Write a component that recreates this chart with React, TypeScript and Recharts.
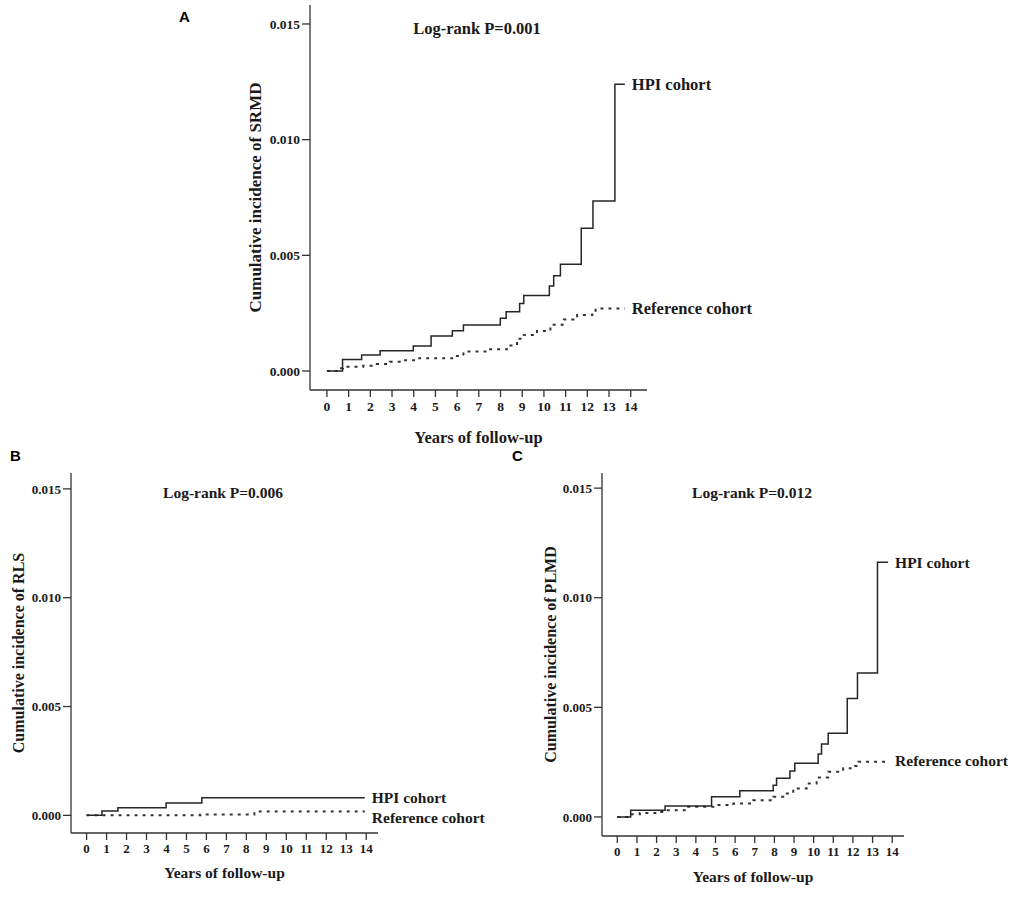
import { Line, LineChart, XAxis, YAxis } from "recharts";

// years / cumulative incidence
const aHpiYears = [0, 0.72, 1.6, 2.45, 3.98, 4.8, 5.78, 6.29, 7.99, 8.26, 8.88, 9.07, 10.25, 10.45, 10.76, 11.72, 12.26, 13.27, 13.73];
const aHpiValues = [0, 0.0005, 0.00069, 0.00088, 0.00108, 0.00151, 0.00174, 0.00199, 0.00228, 0.00256, 0.00292, 0.00326, 0.00367, 0.00412, 0.00461, 0.00617, 0.00735, 0.01239, 0.01239];
const aRefYears = [0, 0.59, 0.74, 1.67, 2.3, 2.9, 3.5, 4.13, 5.9, 6.29, 7.52, 8.29, 8.76, 9.07, 9.68, 10.3, 10.92, 11.53, 12.23, 12.38, 13.73];
const aRefValues = [0, 0.00012, 0.00019, 0.00023, 0.0003, 0.0004, 0.00047, 0.00055, 0.00065, 0.00084, 0.00094, 0.0011, 0.0014, 0.00156, 0.00173, 0.002, 0.00223, 0.00242, 0.0025, 0.0027, 0.0027];

const bHpiYears = [0, 0.77, 1.57, 3.98, 5.77, 13.93];
const bHpiValues = [0, 0.0002, 0.00035, 0.00057, 0.00081, 0.00081];
const bRefYears = [0, 5.7, 8.4, 13.93];
const bRefValues = [0, 0.00004, 0.00018, 0.00018];

const cHpiYears = [0, 0.68, 2.43, 4.8, 6.24, 7.94, 8.11, 8.79, 9.04, 10.23, 10.4, 10.74, 11.71, 12.23, 13.25, 13.79];
const cHpiValues = [0, 0.00031, 0.0005, 0.00092, 0.00119, 0.00145, 0.00176, 0.00209, 0.00245, 0.00287, 0.00333, 0.00382, 0.0054, 0.00657, 0.01162, 0.01162];
const cRefYears = [0, 0.73, 1.15, 2.0, 2.51, 3.53, 4.89, 5.91, 6.92, 7.94, 8.45, 8.96, 9.64, 10.15, 10.74, 11.5, 12.1, 12.27, 13.79];
const cRefValues = [0, 0.00012, 0.00018, 0.00023, 0.0003, 0.00046, 0.00054, 0.00061, 0.00076, 0.00092, 0.00107, 0.0013, 0.00153, 0.0018, 0.00206, 0.00222, 0.00232, 0.00252, 0.00257];

const xTicks = [0, 1, 2, 3, 4, 5, 6, 7, 8, 9, 10, 11, 12, 13, 14];
const yTicks = [0, 0.005, 0.01, 0.015];

const SERIF = "'Liberation Serif', 'Times New Roman', serif";
const INK = "#1a1a1a";

const toRows = (ts: number[], vs: number[]) => ts.map((t, i) => ({ t, v: vs[i] }));

function endLabel(text: string, last: number, fs: number, dx: number, dy: number) {
  return (props: { x?: number; y?: number; index?: number }) => {
    if (props.index !== last || props.x === undefined || props.y === undefined)
      return <g key={`l-${props.index}`} />;
    return (
      <text
        key={`l-${props.index}`}
        x={props.x + dx}
        y={props.y + dy}
        dominantBaseline="central"
        fontFamily={SERIF}
        fontWeight="bold"
        fontSize={fs}
        fill={INK}
      >
        {text}
      </text>
    );
  };
}

type PanelProps = {
  left: number;
  top: number;
  width: number;
  height: number;
  margin: { top: number; right: number; left: number; bottom: number };
  yWidth: number;
  yOffset: number;
  xHeight: number;
  xOffset: number;
  xMax: number;
  yMin: number;
  yMax: number;
  yTitle: string;
  fs: number;
  tickFs: number;
  hpi: { t: number; v: number }[];
  ref: { t: number; v: number }[];
  hpiDy: number;
  refDy: number;
};

function Panel(p: PanelProps) {
  const tickStyle = { fontFamily: SERIF, fontWeight: "bold", fontSize: p.tickFs, fill: INK };
  return (
    <div style={{ position: "absolute", left: p.left, top: p.top }}>
      <LineChart width={p.width} height={p.height} margin={p.margin}>
        <XAxis
          type="number"
          dataKey="t"
          domain={[-0.78, p.xMax]}
          ticks={xTicks}
          interval={0}
          allowDataOverflow
          height={p.xHeight}
          stroke="#333"
          strokeWidth={1.3}
          tickSize={7}
          tickMargin={4}
          tick={tickStyle}
          label={{
            value: "Years of follow-up",
            position: "insideBottom",
            offset: p.xOffset,
            style: { fontFamily: SERIF, fontWeight: "bold", fontSize: p.fs, fill: INK },
          }}
        />
        <YAxis
          type="number"
          domain={[p.yMin, p.yMax]}
          ticks={yTicks}
          allowDataOverflow
          width={p.yWidth}
          stroke="#333"
          strokeWidth={1.3}
          tickSize={8}
          tickMargin={2}
          tick={tickStyle}
          tickFormatter={(v: number) => v.toFixed(3)}
          label={{
            value: p.yTitle,
            angle: -90,
            position: "insideLeft",
            offset: p.yOffset,
            style: { fontFamily: SERIF, fontWeight: "bold", fontSize: p.fs + 0.5, fill: INK, textAnchor: "middle" },
          }}
        />
        <Line
          data={p.ref}
          dataKey="v"
          type="stepAfter"
          stroke="#333"
          strokeWidth={2}
          strokeDasharray="3 5"
          dot={false}
          isAnimationActive={false}
          label={endLabel("Reference cohort", p.ref.length - 1, p.fs, 7, p.refDy)}
        />
        <Line
          data={p.hpi}
          dataKey="v"
          type="stepAfter"
          stroke="#262626"
          strokeWidth={1.5}
          dot={false}
          isAnimationActive={false}
          label={endLabel("HPI cohort", p.hpi.length - 1, p.fs, 7, p.hpiDy)}
        />
      </LineChart>
    </div>
  );
}

function Note({ x, y, text, fs }: { x: number; y: number; text: string; fs: number }) {
  return (
    <div
      style={{
        position: "absolute",
        left: x,
        top: y,
        transform: "translate(-50%, -50%)",
        whiteSpace: "nowrap",
        fontFamily: SERIF,
        fontWeight: "bold",
        fontSize: fs,
        lineHeight: 1,
        color: INK,
      }}
    >
      {text}
    </div>
  );
}

function Letter({ x, y, text }: { x: number; y: number; text: string }) {
  return (
    <div
      style={{
        position: "absolute",
        left: x,
        top: y,
        fontFamily: "'Liberation Sans', Arial, sans-serif",
        fontWeight: "bold",
        fontSize: 15,
        lineHeight: 1,
        color: "#000",
      }}
    >
      {text}
    </div>
  );
}

export default function App() {
  return (
    <div style={{ position: "absolute", left: 0, top: 0, width: 1021, height: 898, background: "#fff", overflow: "hidden" }}>
      <Letter x={179} y={9} text="A" />
      <Letter x={10} y={448} text="B" />
      <Letter x={512} y={448} text="C" />

      <Panel
        left={240}
        top={0}
        width={530}
        height={450}
        margin={{ top: 5, right: 123, left: 0, bottom: 0 }}
        yWidth={70}
        yOffset={15}
        xHeight={60}
        xOffset={7}
        xMax={14.75}
        yMin={-0.00082}
        yMax={0.01582}
        yTitle="Cumulative incidence of SRMD"
        fs={16.5}
        tickFs={13.5}
        hpi={toRows(aHpiYears, aHpiValues)}
        ref={toRows(aRefYears, aRefValues)}
        hpiDy={0}
        refDy={0}
      />
      <Note x={477} y={29} text="Log-rank P=0.001" fs={16.5} />

      <Panel
        left={0}
        top={440}
        width={500}
        height={443}
        margin={{ top: 33, right: 122, left: 0, bottom: 0 }}
        yWidth={71}
        yOffset={18}
        xHeight={50}
        xOffset={5}
        xMax={14.59}
        yMin={-0.00081}
        yMax={0.01573}
        yTitle="Cumulative incidence of RLS"
        fs={15.5}
        tickFs={13}
        hpi={toRows(bHpiYears, bHpiValues)}
        ref={toRows(bRefYears, bRefValues)}
        hpiDy={0}
        refDy={6}
      />
      <Note x={223} y={493} text="Log-rank P=0.006" fs={15.5} />

      <Panel
        left={530}
        top={440}
        width={491}
        height={446}
        margin={{ top: 33, right: 117, left: 0, bottom: 0 }}
        yWidth={72}
        yOffset={20}
        xHeight={50}
        xOffset={4}
        xMax={14.6}
        yMin={-0.00087}
        yMax={0.01569}
        yTitle="Cumulative incidence of PLMD"
        fs={15.5}
        tickFs={13}
        hpi={toRows(cHpiYears, cHpiValues)}
        ref={toRows(cRefYears, cRefValues)}
        hpiDy={0}
        refDy={0}
      />
      <Note x={752} y={493} text="Log-rank P=0.012" fs={15.5} />
    </div>
  );
}
